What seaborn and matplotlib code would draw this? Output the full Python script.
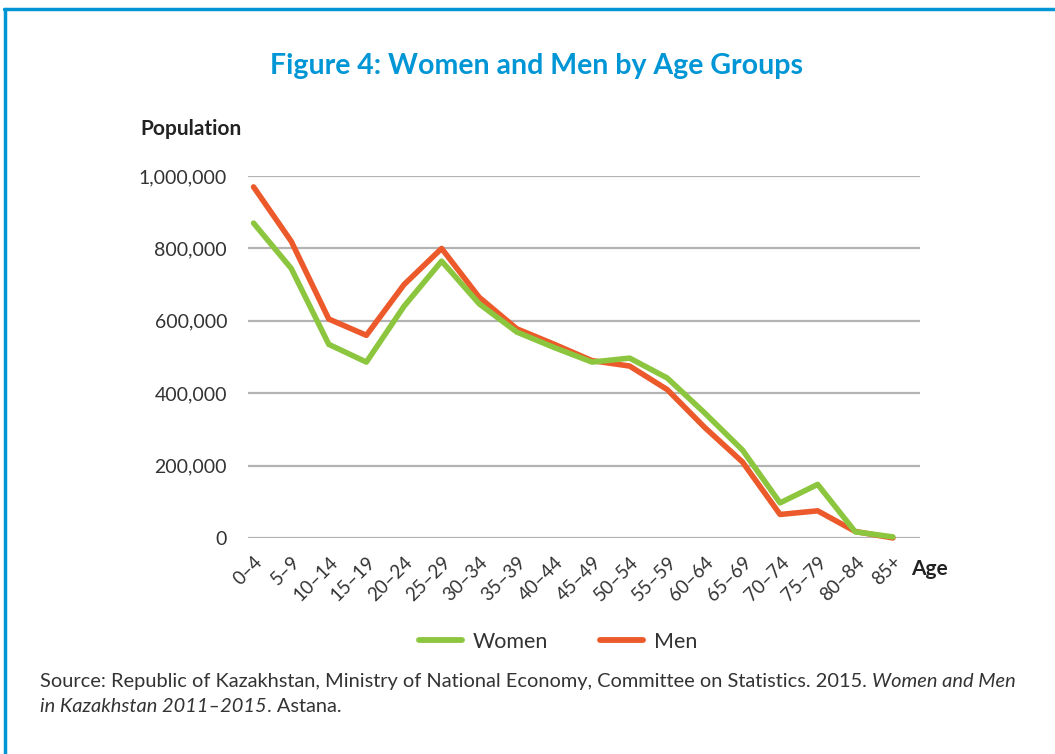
import pandas as pd
import matplotlib.pyplot as plt
import seaborn as sns
from matplotlib.lines import Line2D

age_groups = ['0–4', '5–9', '10–14', '15–19', '20–24', '25–29', '30–34', '35–39', '40–44',
              '45–49', '50–54', '55–59', '60–64', '65–69', '70–74', '75–79', '80–84', '85+']
women = [870000, 745000, 535000, 486000, 640000, 765000, 647000, 569000, 526000,
         486000, 497000, 442000, 345000, 243000, 97000, 148000, 17000, 3000]
men = [970000, 820000, 605000, 560000, 700000, 800000, 665000, 578000, 535000,
       490000, 475000, 410000, 305000, 210000, 65000, 75000, 18000, 0]

sns.set_theme(style='white')
plt.rcParams['font.family'] = ['Lato', 'DejaVu Sans']

GREEN = '#8cc63f'
RED = '#ec5a2b'
BLUE = '#0096d6'
TXT = '#333333'

n = len(age_groups)
df = pd.DataFrame({
    'pos': list(range(n)) * 2,
    'pop': women + men,
    'sex': ['Women'] * n + ['Men'] * n,
})

fig = plt.figure(figsize=(10.55, 7.54), dpi=100)
ax = fig.add_axes([0.235, 0.2865, 0.637, 0.48])

sns.lineplot(data=df, x='pos', y='pop', hue='sex', palette={'Women': GREEN, 'Men': RED},
             hue_order=['Men', 'Women'], linewidth=4.0, sort=False, legend=False, ax=ax)
for ln in ax.lines:
    ln.set_clip_on(False)

ax.set_ylim(0, 1000000)
ax.set_xlim(-0.15, n - 1 + 0.72)
ticks = list(range(0, 1000001, 200000))
ax.set_yticks(ticks)
ax.set_yticklabels([f'{v:,}' for v in ticks], fontsize=14, color=TXT)
ax.set_xticks(range(n))
ax.set_xticklabels(age_groups, rotation=45, ha='right', rotation_mode='anchor',
                   fontsize=13.5, color=TXT)
ax.tick_params(axis='y', length=0, pad=15)
ax.tick_params(axis='x', length=0, pad=11)
ax.yaxis.grid(True, color='#b3b3b3', linewidth=1.6)
ax.set_axisbelow(True)
for s in ax.spines.values():
    s.set_visible(False)
ax.set_xlabel('')
ax.set_ylabel('')

fig.text(0.509, 0.912, 'Figure 4: Women and Men by Age Groups', ha='center', va='center',
         fontsize=20.5, fontweight='bold', color=BLUE)
fig.text(0.133, 0.829, 'Population', ha='left', va='center', fontsize=15,
         fontweight='bold', color='#222222')
fig.text(0.864, 0.246, 'Age', ha='left', va='center', fontsize=15,
         fontweight='bold', color='#222222')

handles = [Line2D([], [], color=GREEN, linewidth=4.2, solid_capstyle='round'),
           Line2D([], [], color=RED, linewidth=4.2, solid_capstyle='round')]
fig.legend(handles, ['Women', 'Men'], loc='center', bbox_to_anchor=(0.529, 0.149), ncol=2,
           frameon=False, fontsize=15.5, handlelength=2.0, columnspacing=2.4,
           handletextpad=0.5, labelcolor=TXT)

# source note with italic parts
t1 = fig.text(0.038, 0.089, 'Source: Republic of Kazakhstan, Ministry of National Economy, '
              'Committee on Statistics. 2015. ', fontsize=14.4, color=TXT, va='baseline')
ax.annotate('Women and Men', xy=(1, 0), xycoords=t1, va='bottom', fontsize=14.4,
            color=TXT, style='italic', annotation_clip=False)
t2 = fig.text(0.038, 0.056, 'in Kazakhstan 2011–2015', fontsize=14.4, color=TXT,
              style='italic', va='baseline')
ax.annotate('. Astana.', xy=(1, 0), xycoords=t2, va='bottom', fontsize=14.4,
            color=TXT, annotation_clip=False)

# blue frame (left and top edges)
fig.add_artist(Line2D([0.005, 0.005], [0.0, 0.988], color=BLUE, linewidth=2.5,
                      transform=fig.transFigure))
fig.add_artist(Line2D([0.004, 1.0], [0.988, 0.988], color=BLUE, linewidth=2.5,
                      transform=fig.transFigure))

fig.savefig('out.png', dpi=100)
